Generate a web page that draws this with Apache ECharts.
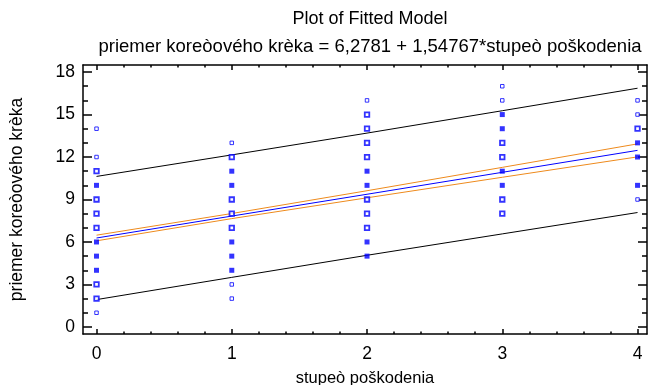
<!DOCTYPE html>
<html>
<head>
<meta charset="utf-8">
<script src="https://cdn.jsdelivr.net/npm/echarts@6/dist/echarts.min.js"></script>
<style>
  html, body { margin: 0; padding: 0; background: #fff; }
  #chart { width: 648px; height: 385px; }
</style>
</head>
<body>
<div id="chart"></div>
<script>
// observations, split by how the marker looks (single / a few / many at one spot)
const hollowPoints = [[0, 14], [0, 12], [0, 1], [1, 13], [1, 3], [1, 2], [2, 16], [3, 17], [3, 16], [4, 16], [4, 15], [4, 9]];
const ringPoints = [[0, 11], [0, 9], [0, 8], [0, 7], [0, 3], [0, 2], [1, 12], [1, 9], [1, 8], [1, 7],
  [2, 15], [2, 14], [2, 13], [2, 12], [2, 9], [2, 8], [2, 7], [3, 13], [3, 12], [3, 9], [3, 8], [4, 14]];
const filledPoints = [[0, 10], [0, 6], [0, 5], [0, 4], [1, 11], [1, 10], [1, 6], [1, 5], [1, 4],
  [2, 11], [2, 10], [2, 6], [2, 5], [3, 15], [3, 14], [3, 11], [3, 10], [4, 13], [4, 12], [4, 10]];

// lines read at stupeò poškodenia = 0..4
const lineX = [0, 1, 2, 3, 4];
const fitted = [6.28, 7.83, 9.37, 10.92, 12.47];
const confUpper = [6.48, 8.01, 9.62, 11.27, 12.93];
const confLower = [6.08, 7.65, 9.12, 10.57, 12.01];
const predUpper = [10.63, 12.15, 13.69, 15.27, 16.86];
const predLower = [1.93, 3.5, 5.06, 6.57, 8.08];

const xMajor = [0, 1, 2, 3, 4];
const xMinor = [0.2, 0.4, 0.6, 0.8, 1.2, 1.4, 1.6, 1.8, 2.2, 2.4, 2.6, 2.8, 3.2, 3.4, 3.6, 3.8];
const yMajor = [0, 3, 6, 9, 12, 15, 18];
const yMinor = [1, 2, 4, 5, 7, 8, 10, 11, 13, 14, 16, 17];

const font = "'Liberation Sans', Arial, sans-serif";
const xMin = -0.1, xMax = 4.07, yMin = -0.5, yMax = 18.5;

function xAx(position, ticks, len, labels, line, name) {
  return {
    type: "value", position, min: xMin, max: xMax,
    name: name || "", nameLocation: "middle", nameGap: 36,
    nameTextStyle: { fontFamily: font, fontSize: 16.5, color: "#000" },
    axisLine: { show: line, onZero: false, lineStyle: { color: "#000", width: 1.5 } },
    axisTick: { show: true, inside: true, length: len, customValues: ticks, lineStyle: { color: "#000", width: 1.5 } },
    axisLabel: { show: labels, customValues: ticks, margin: 11, fontFamily: font, fontSize: 17.5, color: "#000" },
    splitLine: { show: false }
  };
}
function yAx(position, ticks, len, labels, line, name) {
  return {
    type: "value", position, min: yMin, max: yMax,
    name: name || "", nameLocation: "middle", nameGap: 57,
    nameTextStyle: { fontFamily: font, fontSize: 17.5, color: "#000" },
    axisLine: { show: line, onZero: false, lineStyle: { color: "#000", width: 1.5 } },
    axisTick: { show: true, inside: true, length: len, customValues: ticks, lineStyle: { color: "#000", width: 1.5 } },
    axisLabel: { show: labels, customValues: ticks, margin: 8, fontFamily: font, fontSize: 17.5, color: "#000" },
    splitLine: { show: false }
  };
}

function pair(ys) { return lineX.map((x, i) => [x, ys[i]]); }
function lineSeries(ys, color) {
  return { type: "line", data: pair(ys), showSymbol: false, symbol: "none", lineStyle: { color, width: 1 }, z: 3, silent: true };
}

const chart = echarts.init(document.getElementById("chart"), null, { renderer: "canvas" });
chart.setOption({
  animation: false,
  title: {
    text: "Plot of Fitted Model",
    subtext: "priemer koreòového krèka = 6,2781 + 1,54767*stupeò poškodenia",
    left: 365, top: 5, textAlign: "center", itemGap: 9,
    textStyle: { fontFamily: font, fontSize: 18, fontWeight: "normal", color: "#000" },
    subtextStyle: { fontFamily: font, fontSize: 18.5, color: "#000" }
  },
  grid: { left: 83, right: 1, top: 65, bottom: 51, containLabel: false, outerBoundsMode: "none" },
  xAxis: [
    xAx("bottom", xMajor, 5, true, true, "stupeò poškodenia"),
    xAx("bottom", xMinor, 2.5, false, false),
    xAx("top", xMajor, 5, false, true),
    xAx("top", xMinor, 2.5, false, false)
  ],
  yAxis: [
    yAx("left", yMajor, 9, true, true, "priemer koreòového krèka"),
    yAx("left", yMinor, 5, false, false),
    yAx("right", yMajor, 9, false, true),
    yAx("right", yMinor, 5, false, false)
  ],
  series: [
    { type: "scatter", data: hollowPoints, symbol: "rect", symbolSize: 3.5, itemStyle: { color: "#fff", borderColor: "#0000ff", borderWidth: 1 }, z: 4 },
    { type: "scatter", data: ringPoints, symbol: "rect", symbolSize: 4.5, itemStyle: { color: "#fff", borderColor: "#0000ff", borderWidth: 1.8 }, z: 4 },
    { type: "scatter", data: filledPoints, symbol: "rect", symbolSize: 5, itemStyle: { color: "#0000ff" }, z: 4 },
    lineSeries(predUpper, "#000"),
    lineSeries(predLower, "#000"),
    lineSeries(confUpper, "#ee8a1c"),
    lineSeries(confLower, "#ee8a1c"),
    lineSeries(fitted, "#0000ff")
  ]
});
</script>
</body>
</html>
